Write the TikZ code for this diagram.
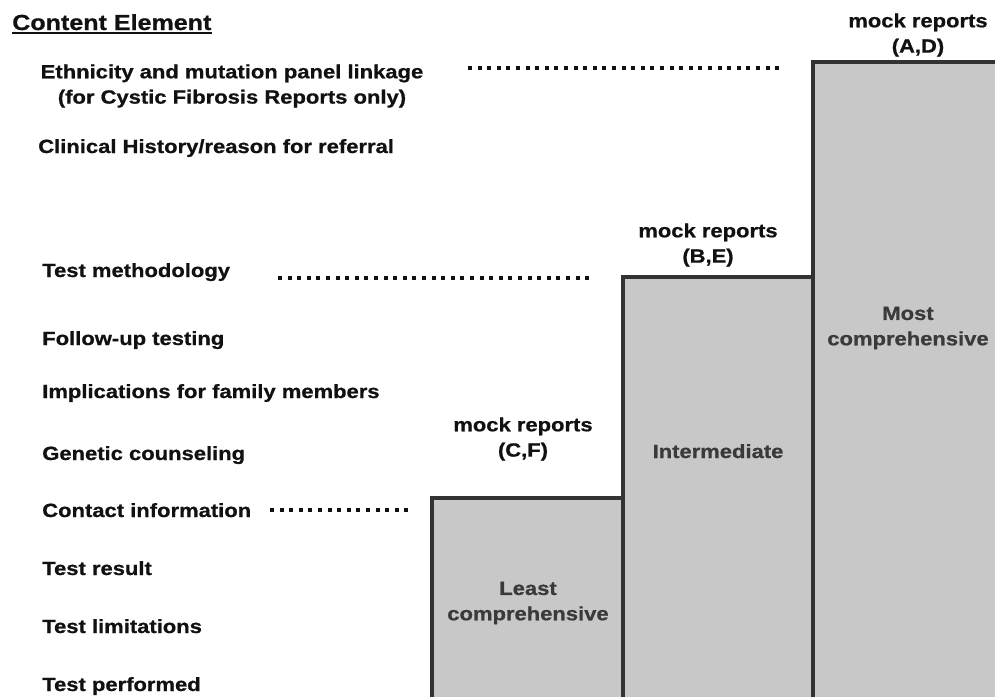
\documentclass[tikz,border=0pt]{standalone}
\usepackage{fontspec}
\setmainfont{Liberation Sans}[FakeStretch=1.15,BoldFeatures={FakeBold=0.8}]
\definecolor{boxfill}{HTML}{C8C8C8}
\definecolor{boxline}{HTML}{333333}
\definecolor{labgray}{HTML}{3A3A3A}
\definecolor{inkblack}{HTML}{111111}

\begin{document}
\begin{tikzpicture}[x=0.025cm,y=-0.025cm,
    every node/.style={inner sep=0pt,text=inkblack,font=\bfseries\fontsize{13.6}{18}\selectfont},
    item/.style={anchor=base west},
    mock/.style={align=center},
    level/.style={align=center,text=labgray},
    tier/.style={fill=boxfill,draw=boxline,line width=0.1cm},
    dots/.style={inkblack,line width=0.1cm,dash pattern=on 0.1cm off 0.14cm}]
    \useasboundingbox (0,0) rectangle (995,697);
    \clip (0,0) rectangle (995,697);
    % tiers, widest report on the right
    \draw[tier] (813,62) rectangle (1060,730);
    \draw[tier] (623,277) rectangle (813,730);
    \draw[tier] (432,498) rectangle (623,730);
    \node[level] (most) at (908,328) {Most\\comprehensive};
    \node[level,anchor=base] (mid) at (718,458) {Intermediate};
    \node[level] (least) at (528,603) {Least\\comprehensive};
    % report labels above each tier
    \node[mock] (repAD) at (918,35) {mock reports\\(A,D)};
    \node[mock] (repBE) at (708,245) {mock reports\\(B,E)};
    \node[mock] (repCF) at (523,439) {mock reports\\(C,F)};
    % heading
    \node[item,font=\bfseries\fontsize{15.5}{18}\selectfont] (head) at (12,30) {Content Element};
    \draw[inkblack,line width=0.05cm] ([yshift=-0.08cm]head.base west) -- ([yshift=-0.08cm]head.base east);
    % content elements
    \node[mock] (ethn) at (232,86) {Ethnicity and mutation panel linkage\\(for Cystic Fibrosis Reports only)};
    \node[item] (clin) at (38,153) {Clinical History/reason for referral};
    \foreach \y/\nm/\txt in {277/meth/Test methodology,345/follow/Follow-up testing,
        398/family/Implications for family members,460/couns/Genetic counseling,
        517/contact/Contact information,575/result/Test result,
        633/limit/Test limitations,691/perf/Test performed}
    \node[item] (\nm) at (42,\y) {\txt};
    % dotted leaders to the tier tops
    \coordinate (d1a) at (468,68);
    \coordinate (d1b) at (782,68);
    \coordinate (d2a) at (278,278);
    \coordinate (d2b) at (590,278);
    \coordinate (d3a) at (270,510);
    \coordinate (d3b) at (410,510);
    \draw[dots] (d1a) -- (d1b);
    \draw[dots] (d2a) -- (d2b);
    \draw[dots] (d3a) -- (d3b);
\end{tikzpicture}
\end{document}
